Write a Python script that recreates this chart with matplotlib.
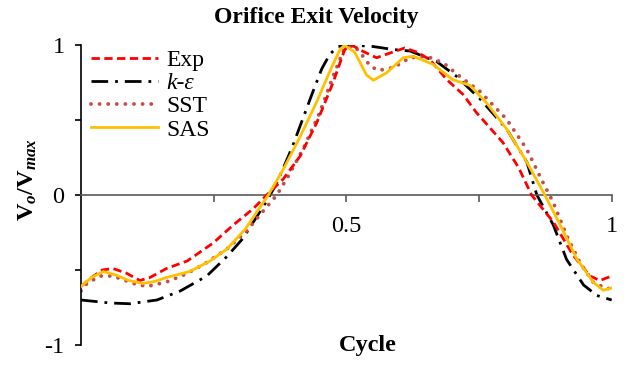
import matplotlib
matplotlib.use("Agg")
import matplotlib.pyplot as plt

# Values (x = fraction of cycle, y = Vo/Vmax)
exp_x = [0, 0.02, 0.04, 0.06, 0.085, 0.111, 0.13, 0.161, 0.2, 0.249, 0.287,
         0.325, 0.35, 0.381, 0.413, 0.444, 0.475, 0.497, 0.51, 0.53, 0.557,
         0.585, 0.61, 0.635, 0.658, 0.689, 0.72, 0.745, 0.795, 0.825, 0.849,
         0.89, 0.927, 0.959, 0.978, 1.0]
exp_y = [-0.61, -0.55, -0.50, -0.49, -0.52, -0.57, -0.55, -0.49, -0.44, -0.32,
         -0.20, -0.09, 0.0, 0.106, 0.26, 0.48, 0.75, 0.97, 1.0, 0.96, 0.915,
         0.95, 0.98, 0.95, 0.90, 0.77, 0.67, 0.55, 0.35, 0.18, 0.0,
         -0.18, -0.40, -0.54, -0.57, -0.54]

ke_x = [0, 0.055, 0.092, 0.143, 0.187, 0.237, 0.275, 0.305, 0.35, 0.369,
        0.397, 0.416, 0.435, 0.4535, 0.469, 0.485, 0.51, 0.55, 0.588, 0.62,
        0.67, 0.708, 0.752, 0.802, 0.84, 0.859, 0.89, 0.915, 0.947, 0.972, 1.0]
ke_y = [-0.70, -0.72, -0.725, -0.70, -0.64, -0.54, -0.41, -0.29, -0.04, 0.08,
        0.31, 0.49, 0.67, 0.84, 0.94, 0.99, 1.0, 0.99, 0.97, 0.96,
        0.89, 0.79, 0.64, 0.44, 0.22, 0.0, -0.20, -0.43, -0.60, -0.67, -0.70]

sst_x = [0, 0.011, 0.036, 0.06, 0.099, 0.124, 0.161, 0.199, 0.237, 0.275,
         0.312, 0.345, 0.369, 0.388, 0.419, 0.45, 0.475, 0.494, 0.513, 0.526,
         0.545, 0.56, 0.589, 0.62, 0.651, 0.683, 0.714, 0.752, 0.802, 0.84,
         0.871, 0.89, 0.915, 0.94, 0.965, 0.99, 1.0]
sst_y = [-0.64, -0.59, -0.54, -0.54, -0.59, -0.61, -0.58, -0.525, -0.45, -0.36,
         -0.24, -0.10, 0.0, 0.11, 0.31, 0.55, 0.79, 0.96, 1.0, 0.95,
         0.86, 0.83, 0.85, 0.915, 0.925, 0.88, 0.79, 0.69, 0.505, 0.305,
         0.08, -0.05, -0.27, -0.45, -0.58, -0.625, -0.62]

sas_x = [0, 0.02, 0.042, 0.067, 0.09, 0.117, 0.14, 0.161, 0.205, 0.243,
         0.275, 0.309, 0.353, 0.381, 0.413, 0.444, 0.472, 0.488, 0.497, 0.516,
         0.538, 0.551, 0.576, 0.607, 0.626, 0.664, 0.70, 0.733, 0.764, 0.802,
         0.84, 0.874, 0.903, 0.934, 0.965, 0.984, 1.0]
sas_y = [-0.61, -0.55, -0.51, -0.535, -0.57, -0.59, -0.575, -0.55, -0.51, -0.44,
         -0.36, -0.23, 0.0, 0.17, 0.39, 0.62, 0.85, 0.97, 1.0, 0.95,
         0.80, 0.765, 0.815, 0.915, 0.925, 0.87, 0.77, 0.73, 0.615, 0.44,
         0.22, 0.0, -0.20, -0.425, -0.58, -0.635, -0.62]

x_ticks = [0.25, 0.5, 0.75, 1.0]
x_tick_labels = ["", "0.5", "", "1"]
y_ticks = [-1, -0.5, 0, 0.5, 1]
y_tick_labels = ["-1", "", "0", "", "1"]

plt.rcParams["font.family"] = ["Liberation Serif", "DejaVu Serif"]
plt.rcParams["mathtext.fontset"] = "custom"
plt.rcParams["mathtext.rm"] = "Liberation Serif:bold"
plt.rcParams["mathtext.it"] = "Liberation Serif:bold:italic"
plt.rcParams["mathtext.bf"] = "Liberation Serif:bold"

fig = plt.figure(figsize=(6.27, 3.67), dpi=100)
ax = fig.add_axes([81 / 627, 1 - 345 / 367, 530.7 / 627, 300 / 367])

ax.plot(exp_x, exp_y, color="#FF0000", lw=2, ls=(0, (3, 1.6)), label="Exp", zorder=3)
ax.plot(ke_x, ke_y, color="black", lw=2, ls=(0, (6, 2.5, 1, 2.5)), label="k-ε", zorder=2)
ax.plot(sst_x, sst_y, color="#C0504D", lw=2.8, ls=(0, (0.01, 2.2)),
        dash_capstyle="round", label="SST", zorder=2)
ax.plot(sas_x, sas_y, color="#FFC000", lw=2, label="SAS", zorder=4)

ax.set_xlim(0, 1)
ax.set_ylim(-1, 1)

ax.spines["top"].set_visible(False)
ax.spines["right"].set_visible(False)
ax.spines["bottom"].set_position(("data", 0))
ax.spines["bottom"].set_color("#595959")
ax.spines["bottom"].set_linewidth(1.2)
ax.spines["left"].set_linewidth(1.2)

ax.set_xticks(x_ticks)
ax.set_xticklabels(x_tick_labels)
ax.set_yticks(y_ticks)
ax.set_yticklabels(y_tick_labels)
ax.tick_params(axis="x", direction="out", length=5, width=1.2, color="#595959",
               labelsize=17.5, pad=10)
ax.tick_params(axis="y", direction="out", length=4.3, width=1.2, labelsize=17.5, pad=7.5)

ax.set_ylabel(r"$\mathrm{V}_{o}\mathrm{/V}_{max}$", fontsize=17.5)
ax.yaxis.set_label_coords(-0.08, 0.55)
ax.set_xlabel("Cycle", fontsize=17.5, fontweight="bold")
ax.xaxis.set_label_coords(0.54, 0.035)

fig.text(0.505, 1 - 17 / 367, "Orifice Exit Velocity", ha="center", va="center",
         fontsize=17, fontweight="bold")

leg = ax.legend(loc="upper left", bbox_to_anchor=(-0.012, 1.04), frameon=False,
                fontsize=17, handlelength=2.85, handletextpad=0.35,
                labelspacing=0.07, borderaxespad=0.3)
leg.get_texts()[1].set_fontstyle("italic")

fig.savefig("out.png", dpi=100)
